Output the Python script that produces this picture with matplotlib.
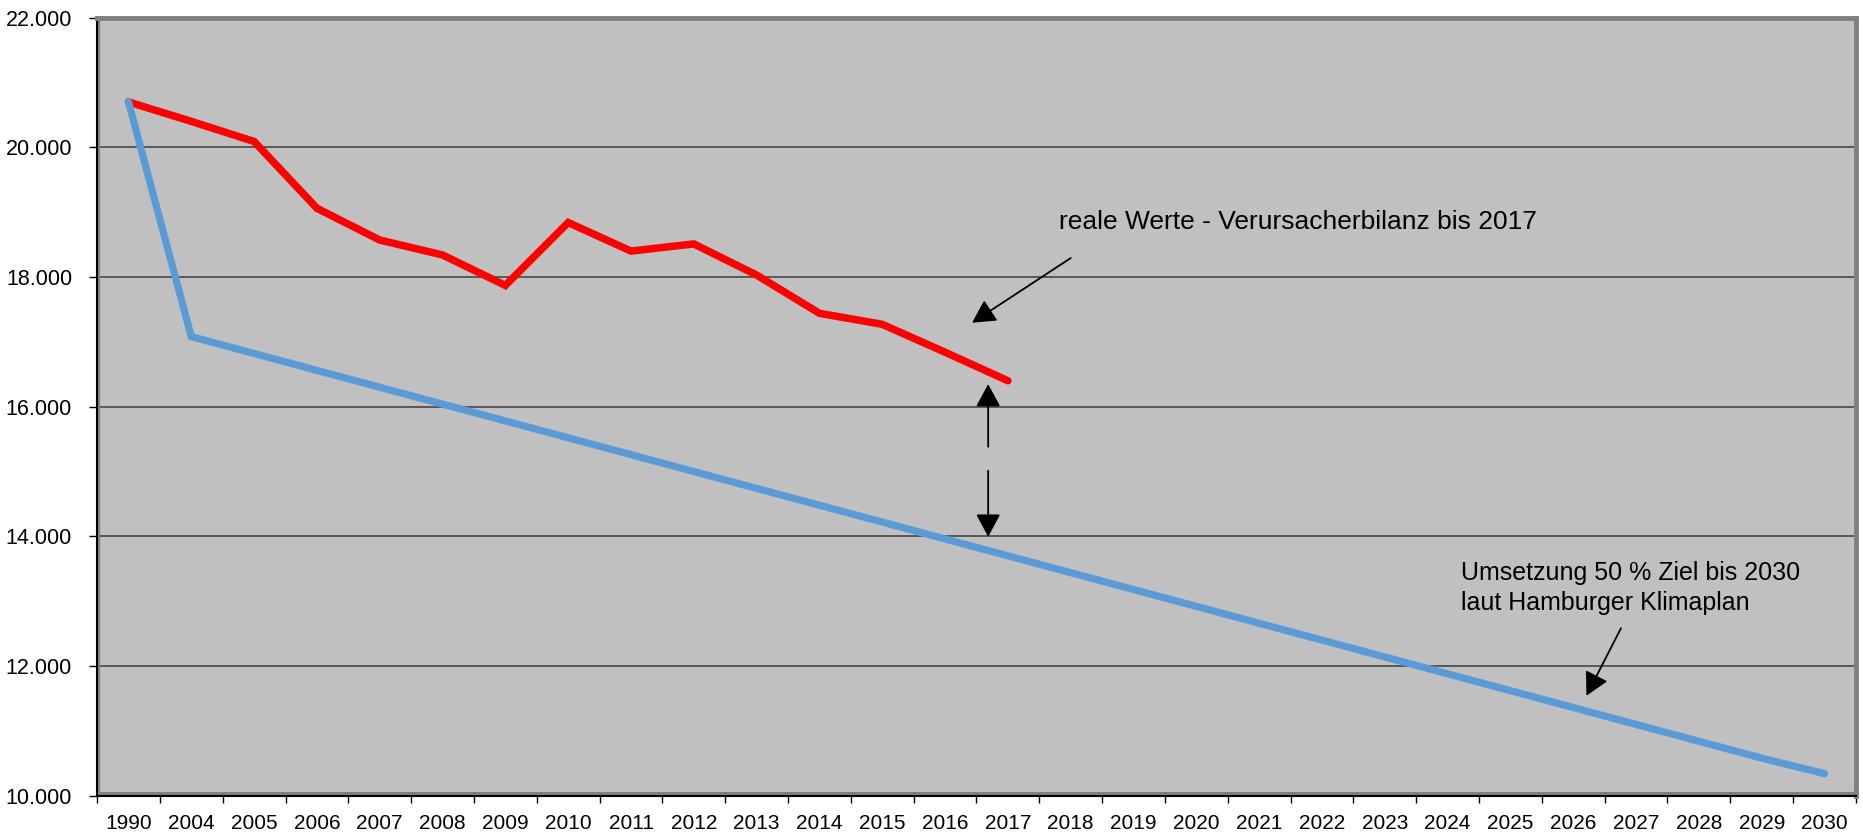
import matplotlib
matplotlib.use("Agg")
import matplotlib.pyplot as plt
from matplotlib.ticker import FixedLocator, FuncFormatter

plt.rcParams['font.family'] = ['Liberation Sans', 'DejaVu Sans']

years = ['1990', '2004', '2005', '2006', '2007', '2008', '2009', '2010', '2011', '2012',
         '2013', '2014', '2015', '2016', '2017', '2018', '2019', '2020', '2021', '2022',
         '2023', '2024', '2025', '2026', '2027', '2028', '2029', '2030']

real_values = [20700, 20400, 20090, 19060, 18570, 18340, 17870, 18840, 18400, 18510,
               18030, 17440, 17270, 16840, 16400]

target_values = [20700, 17080, 16820, 16560, 16300, 16040, 15780, 15520, 15260, 15000,
                 14740, 14480, 14220, 13960, 13700, 13440, 13180, 12920, 12660, 12400,
                 12140, 11880, 11620, 11360, 11100, 10840, 10580, 10340]

y_ticks = [10000, 12000, 14000, 16000, 18000, 20000, 22000]

fig = plt.figure(figsize=(18.63, 8.32), dpi=100)
ax = fig.add_axes([0.0521, 0.0436, 0.9441, 0.9352])
ax.set_facecolor('#c0c0c0')

x_real = list(range(len(real_values)))
x_target = list(range(len(target_values)))

ax.plot(x_real, real_values, color='#ff0000', lw=5.4, solid_capstyle='round',
        solid_joinstyle='miter', zorder=3)
ax.plot(x_target, target_values, color='#5b9bd5', lw=5.2, solid_capstyle='round',
        solid_joinstyle='miter', zorder=4)

ax.set_xlim(-0.5, len(years) - 0.5)
ax.set_ylim(10000, 22000)

ax.set_xticks(range(len(years)))
ax.set_xticklabels(years, fontsize=15)
ax.xaxis.set_minor_locator(FixedLocator([i - 0.5 for i in range(len(years) + 1)]))
ax.tick_params(axis='x', which='major', length=0, pad=13)
ax.tick_params(axis='x', which='minor', length=5, width=1, color='black', direction='out')

ax.yaxis.set_major_locator(FixedLocator(y_ticks))
ax.yaxis.set_major_formatter(FuncFormatter(lambda v, p: f"{v:,.0f}".replace(',', '.')))
ax.tick_params(axis='y', which='major', labelsize=15.5, length=6, width=1, color='black',
               direction='out', pad=12)

ax.grid(axis='y', color='#3c3c3c', lw=1.1, zorder=1)
ax.set_axisbelow(True)

for s in ['top', 'right']:
    ax.spines[s].set_color('#808080')
    ax.spines[s].set_linewidth(3.5)
for s in ['left', 'bottom']:
    ax.spines[s].set_color('black')
    ax.spines[s].set_linewidth(1.5)
ax.axhline(10000 + 45, color='#808080', lw=2.2, zorder=2)
ax.axvline(-0.5 + 0.03, color='#808080', lw=1.6, zorder=2)

arrow_style = '-|>,head_length=0.78,head_width=0.42'
ap = dict(arrowstyle=arrow_style, mutation_scale=18, lw=1.3, color='black',
          shrinkA=0, shrinkB=0)

ax.text(14.81, 18735, 'reale Werte - Verursacherbilanz bis 2017', fontsize=19,
        ha='left', va='baseline', color='black', zorder=6)
ax.annotate('', xy=(13.43, 17295), xytext=(15.0, 18292), arrowprops=ap, zorder=6)

ax.annotate('', xy=(13.686, 16349), xytext=(13.686, 15382), arrowprops=ap, zorder=6)
ax.annotate('', xy=(13.686, 13994), xytext=(13.686, 15012), arrowprops=ap, zorder=6)

ax.text(21.22, 13327, 'Umsetzung 50 % Ziel bis 2030', fontsize=18,
        ha='left', va='baseline', color='black', zorder=6)
ax.text(21.22, 12864, 'laut Hamburger Klimaplan', fontsize=18,
        ha='left', va='baseline', color='black', zorder=6)
ax.annotate('', xy=(23.21, 11543), xytext=(23.76, 12583), arrowprops=ap, zorder=6)

fig.savefig('out.png', dpi=100, facecolor='white')
